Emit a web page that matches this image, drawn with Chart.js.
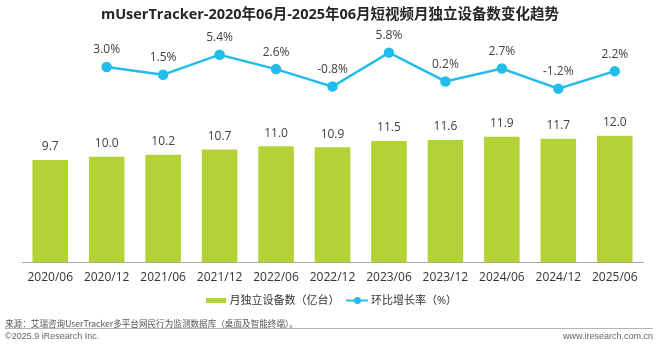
<!DOCTYPE html>
<html>
<head>
<meta charset="utf-8">
<script src="https://cdn.jsdelivr.net/npm/chart.js@4/dist/chart.umd.min.js"></script>
<style>
  html, body { margin: 0; padding: 0; background: #fff; }
  body { width: 660px; height: 345px; position: relative; overflow: hidden;
         font-family: "Open Sans", "Noto Sans CJK SC", sans-serif; }
  #title { position: absolute; left: 0; top: 4px; width: 660px; text-align: center;
           font-size: 14.5px; font-weight: bold; color: #262626; line-height: 20px; }
  #wrap { position: absolute; left: 0; top: 0; width: 660px; height: 318px; }
  #source { position: absolute; left: 5px; top: 317px; font-size: 8.6px; color: #555;
            font-family: "Noto Sans CJK SC", sans-serif; line-height: 12px; }
  #rule { position: absolute; left: 5px; top: 328px; width: 648px; height: 1px; background: #b5b5b5; }
  #copy { position: absolute; left: 5px; top: 330px; font-size: 9px; color: #666; line-height: 12px;
          font-family: "Liberation Sans", sans-serif; }
  #site { position: absolute; right: 7px; top: 330px; font-size: 9px; color: #666; line-height: 12px;
          font-family: "Liberation Sans", sans-serif; }
</style>
</head>
<body>
<div id="wrap"><canvas id="chart"></canvas></div>
<div id="title">mUserTracker-2020年06月-2025年06月短视频月独立设备数变化趋势</div>
<div id="source">来源：艾瑞咨询UserTracker多平台网民行为监测数据库（桌面及智能终端）。</div>
<div id="rule"></div>
<div id="copy">©2025.9 iResearch Inc.</div>
<div id="site">www.iresearch.com.cn</div>
<script>
const categories = ['2020/06', '2020/12', '2021/06', '2021/12', '2022/06', '2022/12',
                    '2023/06', '2023/12', '2024/06', '2024/12', '2025/06'];
// 月独立设备数（亿台）
const devices = [9.7, 10.0, 10.2, 10.7, 11.0, 10.9, 11.5, 11.6, 11.9, 11.7, 12.0];
// 环比增长率（%）
const growth = [null, 3.0, 1.5, 5.4, 2.6, -0.8, 5.8, 0.2, 2.7, -1.2, 2.2];

const GREEN = '#b3d236';
const BLUE = '#22bdea';
const FONT = '"Open Sans", "Noto Sans CJK SC", sans-serif';

// legend swatches
function makeSwatch(w, h, draw) {
    const c = document.createElement('canvas');
    c.width = w; c.height = h;
    draw(c.getContext('2d'));
    return c;
}
const barSwatch = makeSwatch(20, 5, ctx => { ctx.fillStyle = GREEN; ctx.fillRect(0, 0, 20, 5); });
const lineSwatch = makeSwatch(22, 9, ctx => {
    ctx.strokeStyle = BLUE; ctx.lineWidth = 2;
    ctx.beginPath(); ctx.moveTo(0, 4.5); ctx.lineTo(22, 4.5); ctx.stroke();
    ctx.fillStyle = BLUE;
    ctx.beginPath(); ctx.arc(11, 4.5, 3.5, 0, Math.PI * 2); ctx.fill();
});

const valueLabels = {
    id: 'valueLabels',
    afterDatasetsDraw(chart) {
        const ctx = chart.ctx;
        ctx.save();
        ctx.font = '12px ' + FONT;
        ctx.fillStyle = '#404040';
        ctx.textAlign = 'center';
        ctx.textBaseline = 'middle';
        chart.data.datasets.forEach((ds, i) => {
            const meta = chart.getDatasetMeta(i);
            meta.data.forEach((el, j) => {
                const v = ds.data[j];
                if (v === null || v === undefined) return;
                if (ds.type === 'line') {
                    ctx.fillText(v.toFixed(1) + '%', el.x, el.y - 17);
                } else {
                    ctx.fillText(v.toFixed(1), el.x, el.y - 13);
                }
            });
        });
        ctx.restore();
    }
};

new Chart(document.getElementById('chart'), {
    data: {
        labels: categories,
        datasets: [
            {
                type: 'line',
                label: '环比增长率（%）',
                data: growth,
                yAxisID: 'y2',
                borderColor: BLUE,
                backgroundColor: BLUE,
                borderWidth: 2.5,
                pointRadius: 4,
                pointHoverRadius: 4,
                tension: 0,
                order: 1
            },
            {
                type: 'bar',
                label: '月独立设备数（亿台）',
                data: devices,
                yAxisID: 'y',
                backgroundColor: GREEN,
                barPercentage: 0.63,
                categoryPercentage: 1.0,
                order: 2
            }
        ]
    },
    options: {
        responsive: true,
        maintainAspectRatio: false,
        animation: false,
        layout: { padding: { top: 30, left: 22, right: 17, bottom: 2 } },
        scales: {
            x: {
                grid: { display: false, drawTicks: false },
                border: { display: true, color: '#a6a6a6', width: 1 },
                ticks: { color: '#333', font: { size: 12, family: FONT }, padding: 8, maxRotation: 0 },
                // fixed band between the axis line and the legend
                afterFit(scale) { scale.height = 22.5; }
            },
            y: { display: false, min: 0, max: 22 },
            y2: { display: false, min: -35, max: 10.2 }
        },
        plugins: {
            legend: {
                position: 'bottom',
                reverse: true,
                labels: {
                    usePointStyle: true,
                    pointStyleWidth: 16,
                    color: '#333',
                    font: { size: 11, family: FONT },
                    padding: 10,
                    generateLabels(chart) {
                        const items = Chart.defaults.plugins.legend.labels.generateLabels(chart);
                        items.forEach(it => {
                            it.pointStyle = chart.data.datasets[it.datasetIndex].type === 'line' ? lineSwatch : barSwatch;
                        });
                        return items;
                    }
                }
            },
            tooltip: { enabled: false }
        }
    },
    plugins: [valueLabels]
});
</script>
</body>
</html>
